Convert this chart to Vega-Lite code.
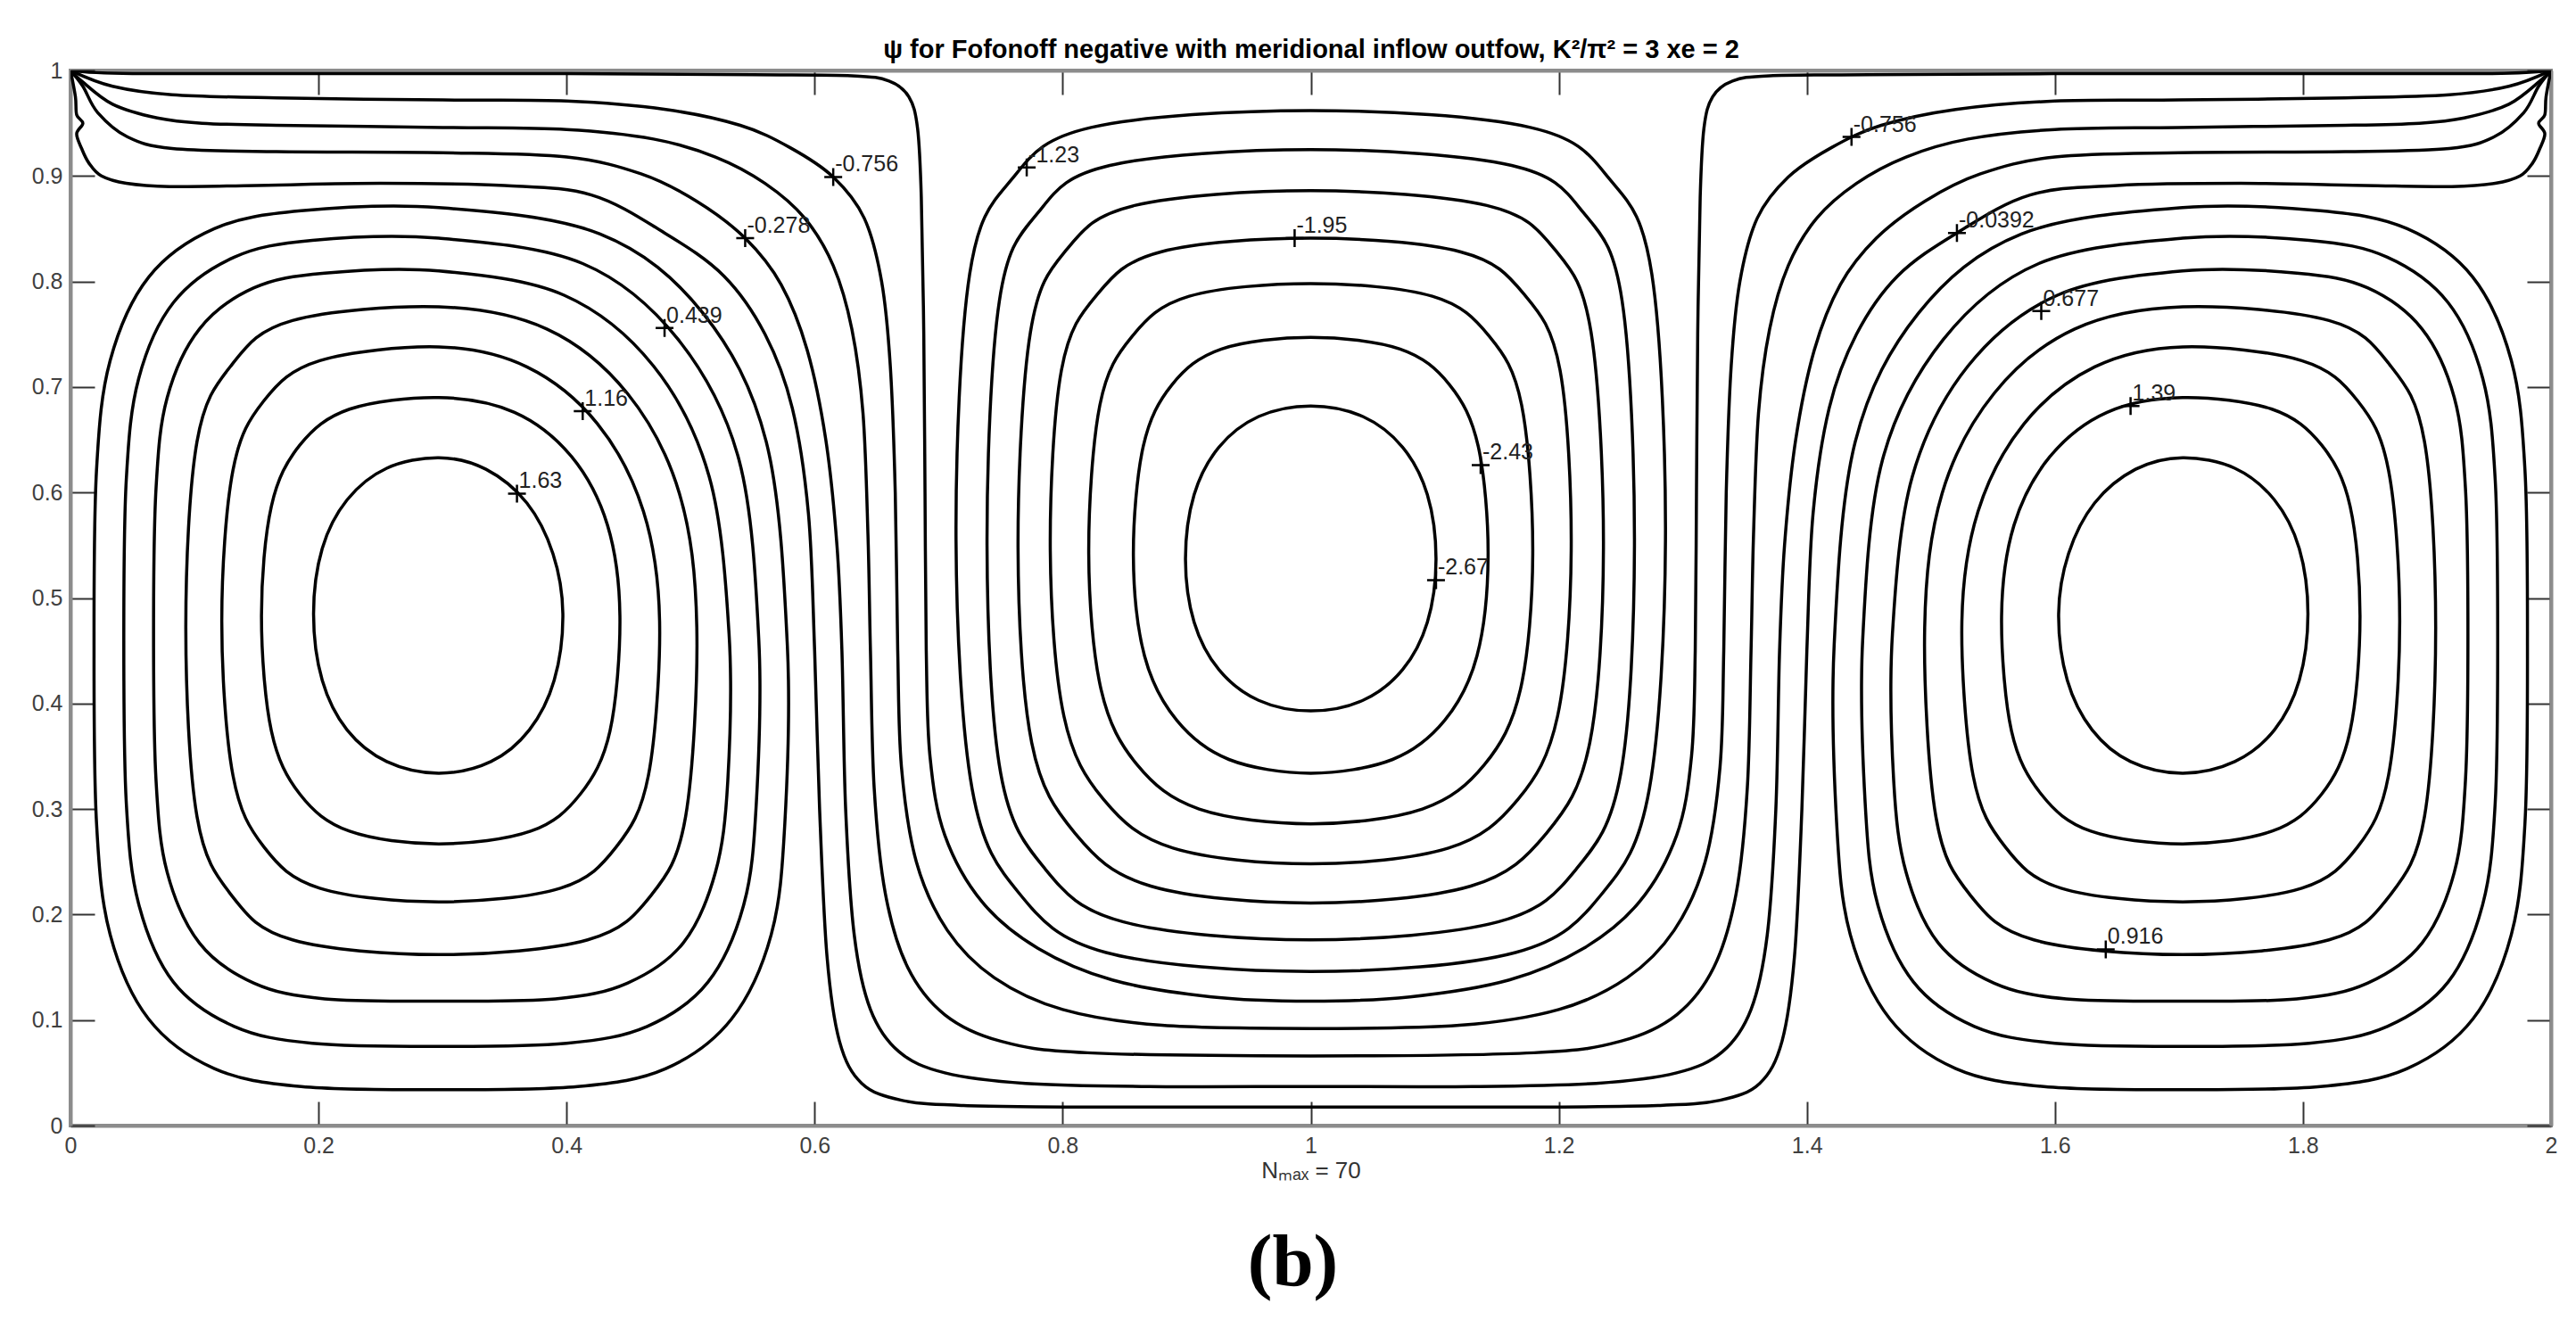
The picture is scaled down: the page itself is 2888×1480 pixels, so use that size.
{
"$schema": "https://vega.github.io/schema/vega-lite/v6.json",
"width": 2781, "height": 1183,
"autosize": {"type": "none"},
"padding": {"left": 79, "top": 79, "right": 28, "bottom": 218},
"background": "#ffffff",
"config": {
 "view": {"stroke": "#8c8c8c", "strokeWidth": 4},
 "font": "Liberation Sans",
 "axis": {"grid": false, "domainColor": "#8c8c8c", "domainWidth": 4, "tickColor": "#333333", "tickWidth": 2, "tickSize": -27, "labelFont": "Liberation Sans", "labelFontSize": 25, "labelColor": "#404040", "labelFlush": false, "labelOverlap": false, "titleFont": "Liberation Sans"}
},
"title": {"text": "(b)", "orient": "bottom", "anchor": "middle", "font": "Liberation Serif", "fontSize": 83, "fontWeight": "bold", "color": "#000000", "offset": 50, "dx": -20},
"datasets": {
"loops": [
{"c":"L1","i":0,"x":0.397,"y":0.485},{"c":"L1","i":1,"x":0.389,"y":0.542},{"c":"L1","i":2,"x":0.368,"y":0.590},{"c":"L1","i":3,"x":0.335,"y":0.622},{"c":"L1","i":4,"x":0.297,"y":0.633},{"c":"L1","i":5,"x":0.255,"y":0.623},{"c":"L1","i":6,"x":0.223,"y":0.593},{"c":"L1","i":7,"x":0.203,"y":0.547},{"c":"L1","i":8,"x":0.196,"y":0.485},{"c":"L1","i":9,"x":0.203,"y":0.422},{"c":"L1","i":10,"x":0.223,"y":0.375},{"c":"L1","i":11,"x":0.255,"y":0.345},{"c":"L1","i":12,"x":0.297,"y":0.334},{"c":"L1","i":13,"x":0.339,"y":0.345},{"c":"L1","i":14,"x":0.370,"y":0.375},{"c":"L1","i":15,"x":0.390,"y":0.422},
{"c":"L2","i":0,"x":0.443,"y":0.483},{"c":"L2","i":1,"x":0.433,"y":0.569},{"c":"L2","i":2,"x":0.404,"y":0.634},{"c":"L2","i":3,"x":0.358,"y":0.676},{"c":"L2","i":4,"x":0.297,"y":0.690},{"c":"L2","i":5,"x":0.225,"y":0.679},{"c":"L2","i":6,"x":0.185,"y":0.645},{"c":"L2","i":7,"x":0.162,"y":0.587},{"c":"L2","i":8,"x":0.154,"y":0.483},{"c":"L2","i":9,"x":0.162,"y":0.374},{"c":"L2","i":10,"x":0.185,"y":0.314},{"c":"L2","i":11,"x":0.225,"y":0.279},{"c":"L2","i":12,"x":0.297,"y":0.267},{"c":"L2","i":13,"x":0.371,"y":0.279},{"c":"L2","i":14,"x":0.411,"y":0.314},{"c":"L2","i":15,"x":0.435,"y":0.374},
{"c":"L3","i":0,"x":0.475,"y":0.478},{"c":"L3","i":1,"x":0.462,"y":0.582},{"c":"L3","i":2,"x":0.425,"y":0.665},{"c":"L3","i":3,"x":0.368,"y":0.719},{"c":"L3","i":4,"x":0.297,"y":0.738},{"c":"L3","i":5,"x":0.201,"y":0.725},{"c":"L3","i":6,"x":0.156,"y":0.687},{"c":"L3","i":7,"x":0.131,"y":0.621},{"c":"L3","i":8,"x":0.122,"y":0.478},{"c":"L3","i":9,"x":0.131,"y":0.332},{"c":"L3","i":10,"x":0.156,"y":0.264},{"c":"L3","i":11,"x":0.201,"y":0.225},{"c":"L3","i":12,"x":0.297,"y":0.212},{"c":"L3","i":13,"x":0.395,"y":0.225},{"c":"L3","i":14,"x":0.440,"y":0.264},{"c":"L3","i":15,"x":0.466,"y":0.332},
{"c":"L4","i":0,"x":0.505,"y":0.472},{"c":"L4","i":1,"x":0.491,"y":0.599},{"c":"L4","i":2,"x":0.449,"y":0.694},{"c":"L4","i":3,"x":0.384,"y":0.755},{"c":"L4","i":4,"x":0.297,"y":0.776},{"c":"L4","i":5,"x":0.179,"y":0.763},{"c":"L4","i":6,"x":0.130,"y":0.721},{"c":"L4","i":7,"x":0.102,"y":0.648},{"c":"L4","i":8,"x":0.093,"y":0.472},{"c":"L4","i":9,"x":0.102,"y":0.293},{"c":"L4","i":10,"x":0.130,"y":0.218},{"c":"L4","i":11,"x":0.179,"y":0.176},{"c":"L4","i":12,"x":0.297,"y":0.162},{"c":"L4","i":13,"x":0.417,"y":0.176},{"c":"L4","i":14,"x":0.468,"y":0.218},{"c":"L4","i":15,"x":0.496,"y":0.293},
{"c":"L5","i":0,"x":0.531,"y":0.466},{"c":"L5","i":1,"x":0.515,"y":0.615},{"c":"L5","i":2,"x":0.470,"y":0.720},{"c":"L5","i":3,"x":0.398,"y":0.787},{"c":"L5","i":4,"x":0.297,"y":0.810},{"c":"L5","i":5,"x":0.205,"y":0.808},{"c":"L5","i":6,"x":0.148,"y":0.794},{"c":"L5","i":7,"x":0.104,"y":0.755},{"c":"L5","i":8,"x":0.078,"y":0.690},{"c":"L5","i":9,"x":0.069,"y":0.604},{"c":"L5","i":10,"x":0.067,"y":0.466},{"c":"L5","i":11,"x":0.069,"y":0.327},{"c":"L5","i":12,"x":0.078,"y":0.240},{"c":"L5","i":13,"x":0.104,"y":0.173},{"c":"L5","i":14,"x":0.148,"y":0.135},{"c":"L5","i":15,"x":0.205,"y":0.120},{"c":"L5","i":16,"x":0.297,"y":0.118},{"c":"L5","i":17,"x":0.391,"y":0.120},{"c":"L5","i":18,"x":0.449,"y":0.135},{"c":"L5","i":19,"x":0.494,"y":0.173},{"c":"L5","i":20,"x":0.520,"y":0.240},{"c":"L5","i":21,"x":0.530,"y":0.327},
{"c":"L6","i":0,"x":0.555,"y":0.460},{"c":"L6","i":1,"x":0.539,"y":0.631},{"c":"L6","i":2,"x":0.490,"y":0.745},{"c":"L6","i":3,"x":0.413,"y":0.817},{"c":"L6","i":4,"x":0.297,"y":0.841},{"c":"L6","i":5,"x":0.195,"y":0.839},{"c":"L6","i":6,"x":0.132,"y":0.823},{"c":"L6","i":7,"x":0.083,"y":0.780},{"c":"L6","i":8,"x":0.055,"y":0.708},{"c":"L6","i":9,"x":0.045,"y":0.612},{"c":"L6","i":10,"x":0.043,"y":0.460},{"c":"L6","i":11,"x":0.045,"y":0.306},{"c":"L6","i":12,"x":0.055,"y":0.210},{"c":"L6","i":13,"x":0.083,"y":0.136},{"c":"L6","i":14,"x":0.132,"y":0.094},{"c":"L6","i":15,"x":0.195,"y":0.078},{"c":"L6","i":16,"x":0.297,"y":0.075},{"c":"L6","i":17,"x":0.400,"y":0.078},{"c":"L6","i":18,"x":0.465,"y":0.094},{"c":"L6","i":19,"x":0.514,"y":0.136},{"c":"L6","i":20,"x":0.543,"y":0.210},{"c":"L6","i":21,"x":0.553,"y":0.306},
{"c":"L7","i":0,"x":0.578,"y":0.455},{"c":"L7","i":1,"x":0.561,"y":0.648},{"c":"L7","i":2,"x":0.510,"y":0.770},{"c":"L7","i":3,"x":0.427,"y":0.845},{"c":"L7","i":4,"x":0.297,"y":0.870},{"c":"L7","i":5,"x":0.186,"y":0.867},{"c":"L7","i":6,"x":0.116,"y":0.850},{"c":"L7","i":7,"x":0.063,"y":0.804},{"c":"L7","i":8,"x":0.032,"y":0.725},{"c":"L7","i":9,"x":0.021,"y":0.621},{"c":"L7","i":10,"x":0.019,"y":0.455},{"c":"L7","i":11,"x":0.021,"y":0.287},{"c":"L7","i":12,"x":0.032,"y":0.181},{"c":"L7","i":13,"x":0.063,"y":0.101},{"c":"L7","i":14,"x":0.116,"y":0.054},{"c":"L7","i":15,"x":0.186,"y":0.037},{"c":"L7","i":16,"x":0.297,"y":0.034},{"c":"L7","i":17,"x":0.409,"y":0.037},{"c":"L7","i":18,"x":0.480,"y":0.054},{"c":"L7","i":19,"x":0.533,"y":0.101},{"c":"L7","i":20,"x":0.565,"y":0.181},{"c":"L7","i":21,"x":0.576,"y":0.287},
{"c":"M1","i":0,"x":1.101,"y":0.537},{"c":"M1","i":1,"x":1.094,"y":0.598},{"c":"M1","i":2,"x":1.074,"y":0.643},{"c":"M1","i":3,"x":1.042,"y":0.672},{"c":"M1","i":4,"x":1.000,"y":0.682},{"c":"M1","i":5,"x":0.958,"y":0.672},{"c":"M1","i":6,"x":0.926,"y":0.643},{"c":"M1","i":7,"x":0.906,"y":0.598},{"c":"M1","i":8,"x":0.899,"y":0.537},{"c":"M1","i":9,"x":0.906,"y":0.477},{"c":"M1","i":10,"x":0.926,"y":0.432},{"c":"M1","i":11,"x":0.958,"y":0.403},{"c":"M1","i":12,"x":1.000,"y":0.393},{"c":"M1","i":13,"x":1.042,"y":0.403},{"c":"M1","i":14,"x":1.074,"y":0.432},{"c":"M1","i":15,"x":1.094,"y":0.477},
{"c":"M2","i":0,"x":1.143,"y":0.540},{"c":"M2","i":1,"x":1.135,"y":0.644},{"c":"M2","i":2,"x":1.112,"y":0.702},{"c":"M2","i":3,"x":1.072,"y":0.736},{"c":"M2","i":4,"x":1.000,"y":0.747},{"c":"M2","i":5,"x":0.928,"y":0.736},{"c":"M2","i":6,"x":0.888,"y":0.702},{"c":"M2","i":7,"x":0.865,"y":0.644},{"c":"M2","i":8,"x":0.857,"y":0.540},{"c":"M2","i":9,"x":0.866,"y":0.445},{"c":"M2","i":10,"x":0.892,"y":0.384},{"c":"M2","i":11,"x":0.934,"y":0.347},{"c":"M2","i":12,"x":1.000,"y":0.334},{"c":"M2","i":13,"x":1.066,"y":0.347},{"c":"M2","i":14,"x":1.108,"y":0.384},{"c":"M2","i":15,"x":1.134,"y":0.445},
{"c":"M3","i":0,"x":1.179,"y":0.542},{"c":"M3","i":1,"x":1.170,"y":0.683},{"c":"M3","i":2,"x":1.144,"y":0.748},{"c":"M3","i":3,"x":1.098,"y":0.786},{"c":"M3","i":4,"x":1.000,"y":0.798},{"c":"M3","i":5,"x":0.902,"y":0.786},{"c":"M3","i":6,"x":0.856,"y":0.748},{"c":"M3","i":7,"x":0.830,"y":0.683},{"c":"M3","i":8,"x":0.821,"y":0.542},{"c":"M3","i":9,"x":0.831,"y":0.413},{"c":"M3","i":10,"x":0.860,"y":0.342},{"c":"M3","i":11,"x":0.910,"y":0.300},{"c":"M3","i":12,"x":1.000,"y":0.286},{"c":"M3","i":13,"x":1.090,"y":0.300},{"c":"M3","i":14,"x":1.140,"y":0.342},{"c":"M3","i":15,"x":1.169,"y":0.413},
{"c":"M4","i":0,"x":1.210,"y":0.545},{"c":"M4","i":1,"x":1.201,"y":0.716},{"c":"M4","i":2,"x":1.172,"y":0.788},{"c":"M4","i":3,"x":1.121,"y":0.828},{"c":"M4","i":4,"x":1.000,"y":0.841},{"c":"M4","i":5,"x":0.879,"y":0.828},{"c":"M4","i":6,"x":0.828,"y":0.788},{"c":"M4","i":7,"x":0.799,"y":0.716},{"c":"M4","i":8,"x":0.790,"y":0.545},{"c":"M4","i":9,"x":0.801,"y":0.388},{"c":"M4","i":10,"x":0.833,"y":0.309},{"c":"M4","i":11,"x":0.889,"y":0.263},{"c":"M4","i":12,"x":1.000,"y":0.248},{"c":"M4","i":13,"x":1.111,"y":0.263},{"c":"M4","i":14,"x":1.167,"y":0.309},{"c":"M4","i":15,"x":1.199,"y":0.388},
{"c":"M5","i":0,"x":1.236,"y":0.548},{"c":"M5","i":1,"x":1.226,"y":0.752},{"c":"M5","i":2,"x":1.197,"y":0.830},{"c":"M5","i":3,"x":1.142,"y":0.872},{"c":"M5","i":4,"x":1.000,"y":0.886},{"c":"M5","i":5,"x":0.858,"y":0.872},{"c":"M5","i":6,"x":0.803,"y":0.830},{"c":"M5","i":7,"x":0.774,"y":0.752},{"c":"M5","i":8,"x":0.764,"y":0.548},{"c":"M5","i":9,"x":0.775,"y":0.363},{"c":"M5","i":10,"x":0.810,"y":0.277},{"c":"M5","i":11,"x":0.871,"y":0.227},{"c":"M5","i":12,"x":1.000,"y":0.211},{"c":"M5","i":13,"x":1.129,"y":0.227},{"c":"M5","i":14,"x":1.190,"y":0.277},{"c":"M5","i":15,"x":1.225,"y":0.363},
{"c":"M6","i":0,"x":1.261,"y":0.550},{"c":"M6","i":1,"x":1.251,"y":0.782},{"c":"M6","i":2,"x":1.220,"y":0.865},{"c":"M6","i":3,"x":1.162,"y":0.910},{"c":"M6","i":4,"x":1.000,"y":0.925},{"c":"M6","i":5,"x":0.838,"y":0.910},{"c":"M6","i":6,"x":0.780,"y":0.865},{"c":"M6","i":7,"x":0.749,"y":0.782},{"c":"M6","i":8,"x":0.739,"y":0.550},{"c":"M6","i":9,"x":0.750,"y":0.334},{"c":"M6","i":10,"x":0.786,"y":0.243},{"c":"M6","i":11,"x":0.849,"y":0.193},{"c":"M6","i":12,"x":1.000,"y":0.176},{"c":"M6","i":13,"x":1.151,"y":0.193},{"c":"M6","i":14,"x":1.214,"y":0.243},{"c":"M6","i":15,"x":1.250,"y":0.334},
{"c":"M7","i":0,"x":1.286,"y":0.555},{"c":"M7","i":1,"x":1.275,"y":0.807},{"c":"M7","i":2,"x":1.241,"y":0.897},{"c":"M7","i":3,"x":1.177,"y":0.946},{"c":"M7","i":4,"x":1.000,"y":0.962},{"c":"M7","i":5,"x":0.823,"y":0.946},{"c":"M7","i":6,"x":0.759,"y":0.897},{"c":"M7","i":7,"x":0.725,"y":0.807},{"c":"M7","i":8,"x":0.714,"y":0.555},{"c":"M7","i":9,"x":0.727,"y":0.319},{"c":"M7","i":10,"x":0.765,"y":0.220},{"c":"M7","i":11,"x":0.835,"y":0.164},{"c":"M7","i":12,"x":1.000,"y":0.146},{"c":"M7","i":13,"x":1.165,"y":0.164},{"c":"M7","i":14,"x":1.235,"y":0.220},{"c":"M7","i":15,"x":1.273,"y":0.319},
{"c":"R1","i":0,"x":1.603,"y":0.485},{"c":"R1","i":1,"x":1.611,"y":0.542},{"c":"R1","i":2,"x":1.632,"y":0.590},{"c":"R1","i":3,"x":1.665,"y":0.622},{"c":"R1","i":4,"x":1.703,"y":0.633},{"c":"R1","i":5,"x":1.745,"y":0.623},{"c":"R1","i":6,"x":1.777,"y":0.593},{"c":"R1","i":7,"x":1.797,"y":0.547},{"c":"R1","i":8,"x":1.804,"y":0.485},{"c":"R1","i":9,"x":1.797,"y":0.422},{"c":"R1","i":10,"x":1.777,"y":0.375},{"c":"R1","i":11,"x":1.745,"y":0.345},{"c":"R1","i":12,"x":1.703,"y":0.334},{"c":"R1","i":13,"x":1.661,"y":0.345},{"c":"R1","i":14,"x":1.630,"y":0.375},{"c":"R1","i":15,"x":1.610,"y":0.422},
{"c":"R2","i":0,"x":1.557,"y":0.483},{"c":"R2","i":1,"x":1.567,"y":0.569},{"c":"R2","i":2,"x":1.596,"y":0.634},{"c":"R2","i":3,"x":1.642,"y":0.676},{"c":"R2","i":4,"x":1.703,"y":0.690},{"c":"R2","i":5,"x":1.775,"y":0.679},{"c":"R2","i":6,"x":1.815,"y":0.645},{"c":"R2","i":7,"x":1.838,"y":0.587},{"c":"R2","i":8,"x":1.846,"y":0.483},{"c":"R2","i":9,"x":1.838,"y":0.374},{"c":"R2","i":10,"x":1.815,"y":0.314},{"c":"R2","i":11,"x":1.775,"y":0.279},{"c":"R2","i":12,"x":1.703,"y":0.267},{"c":"R2","i":13,"x":1.629,"y":0.279},{"c":"R2","i":14,"x":1.589,"y":0.314},{"c":"R2","i":15,"x":1.565,"y":0.374},
{"c":"R3","i":0,"x":1.525,"y":0.478},{"c":"R3","i":1,"x":1.538,"y":0.582},{"c":"R3","i":2,"x":1.575,"y":0.665},{"c":"R3","i":3,"x":1.632,"y":0.719},{"c":"R3","i":4,"x":1.703,"y":0.738},{"c":"R3","i":5,"x":1.799,"y":0.725},{"c":"R3","i":6,"x":1.844,"y":0.687},{"c":"R3","i":7,"x":1.869,"y":0.621},{"c":"R3","i":8,"x":1.878,"y":0.478},{"c":"R3","i":9,"x":1.869,"y":0.332},{"c":"R3","i":10,"x":1.844,"y":0.264},{"c":"R3","i":11,"x":1.799,"y":0.225},{"c":"R3","i":12,"x":1.703,"y":0.212},{"c":"R3","i":13,"x":1.605,"y":0.225},{"c":"R3","i":14,"x":1.560,"y":0.264},{"c":"R3","i":15,"x":1.534,"y":0.332},
{"c":"R4","i":0,"x":1.495,"y":0.472},{"c":"R4","i":1,"x":1.509,"y":0.599},{"c":"R4","i":2,"x":1.551,"y":0.694},{"c":"R4","i":3,"x":1.616,"y":0.755},{"c":"R4","i":4,"x":1.703,"y":0.776},{"c":"R4","i":5,"x":1.821,"y":0.763},{"c":"R4","i":6,"x":1.870,"y":0.721},{"c":"R4","i":7,"x":1.898,"y":0.648},{"c":"R4","i":8,"x":1.907,"y":0.472},{"c":"R4","i":9,"x":1.898,"y":0.293},{"c":"R4","i":10,"x":1.870,"y":0.218},{"c":"R4","i":11,"x":1.821,"y":0.176},{"c":"R4","i":12,"x":1.703,"y":0.162},{"c":"R4","i":13,"x":1.583,"y":0.176},{"c":"R4","i":14,"x":1.532,"y":0.218},{"c":"R4","i":15,"x":1.504,"y":0.293},
{"c":"R5","i":0,"x":1.469,"y":0.466},{"c":"R5","i":1,"x":1.485,"y":0.615},{"c":"R5","i":2,"x":1.530,"y":0.720},{"c":"R5","i":3,"x":1.602,"y":0.787},{"c":"R5","i":4,"x":1.703,"y":0.810},{"c":"R5","i":5,"x":1.795,"y":0.808},{"c":"R5","i":6,"x":1.852,"y":0.794},{"c":"R5","i":7,"x":1.896,"y":0.755},{"c":"R5","i":8,"x":1.922,"y":0.690},{"c":"R5","i":9,"x":1.931,"y":0.604},{"c":"R5","i":10,"x":1.933,"y":0.466},{"c":"R5","i":11,"x":1.931,"y":0.327},{"c":"R5","i":12,"x":1.922,"y":0.240},{"c":"R5","i":13,"x":1.896,"y":0.173},{"c":"R5","i":14,"x":1.852,"y":0.135},{"c":"R5","i":15,"x":1.795,"y":0.120},{"c":"R5","i":16,"x":1.703,"y":0.118},{"c":"R5","i":17,"x":1.609,"y":0.120},{"c":"R5","i":18,"x":1.551,"y":0.135},{"c":"R5","i":19,"x":1.506,"y":0.173},{"c":"R5","i":20,"x":1.480,"y":0.240},{"c":"R5","i":21,"x":1.470,"y":0.327},
{"c":"R6","i":0,"x":1.445,"y":0.460},{"c":"R6","i":1,"x":1.461,"y":0.631},{"c":"R6","i":2,"x":1.510,"y":0.745},{"c":"R6","i":3,"x":1.587,"y":0.817},{"c":"R6","i":4,"x":1.703,"y":0.841},{"c":"R6","i":5,"x":1.805,"y":0.839},{"c":"R6","i":6,"x":1.868,"y":0.823},{"c":"R6","i":7,"x":1.917,"y":0.780},{"c":"R6","i":8,"x":1.945,"y":0.708},{"c":"R6","i":9,"x":1.955,"y":0.612},{"c":"R6","i":10,"x":1.957,"y":0.460},{"c":"R6","i":11,"x":1.955,"y":0.306},{"c":"R6","i":12,"x":1.945,"y":0.210},{"c":"R6","i":13,"x":1.917,"y":0.136},{"c":"R6","i":14,"x":1.868,"y":0.094},{"c":"R6","i":15,"x":1.805,"y":0.078},{"c":"R6","i":16,"x":1.703,"y":0.075},{"c":"R6","i":17,"x":1.600,"y":0.078},{"c":"R6","i":18,"x":1.535,"y":0.094},{"c":"R6","i":19,"x":1.486,"y":0.136},{"c":"R6","i":20,"x":1.457,"y":0.210},{"c":"R6","i":21,"x":1.447,"y":0.306},
{"c":"R7","i":0,"x":1.422,"y":0.455},{"c":"R7","i":1,"x":1.439,"y":0.648},{"c":"R7","i":2,"x":1.490,"y":0.770},{"c":"R7","i":3,"x":1.573,"y":0.845},{"c":"R7","i":4,"x":1.703,"y":0.870},{"c":"R7","i":5,"x":1.814,"y":0.867},{"c":"R7","i":6,"x":1.884,"y":0.850},{"c":"R7","i":7,"x":1.937,"y":0.804},{"c":"R7","i":8,"x":1.968,"y":0.725},{"c":"R7","i":9,"x":1.979,"y":0.621},{"c":"R7","i":10,"x":1.981,"y":0.455},{"c":"R7","i":11,"x":1.979,"y":0.287},{"c":"R7","i":12,"x":1.968,"y":0.181},{"c":"R7","i":13,"x":1.937,"y":0.101},{"c":"R7","i":14,"x":1.884,"y":0.054},{"c":"R7","i":15,"x":1.814,"y":0.037},{"c":"R7","i":16,"x":1.703,"y":0.034},{"c":"R7","i":17,"x":1.591,"y":0.037},{"c":"R7","i":18,"x":1.520,"y":0.054},{"c":"R7","i":19,"x":1.467,"y":0.101},{"c":"R7","i":20,"x":1.435,"y":0.181},{"c":"R7","i":21,"x":1.424,"y":0.287}
],
"opens": [
{"c":"A","i":0,"x":0.000,"y":1.000},{"c":"A","i":1,"x":0.050,"y":0.997},{"c":"A","i":2,"x":0.200,"y":0.997},{"c":"A","i":3,"x":0.400,"y":0.997},{"c":"A","i":4,"x":0.550,"y":0.996},{"c":"A","i":5,"x":0.630,"y":0.995},{"c":"A","i":6,"x":0.660,"y":0.990},{"c":"A","i":7,"x":0.676,"y":0.975},{"c":"A","i":8,"x":0.683,"y":0.945},{"c":"A","i":9,"x":0.686,"y":0.880},{"c":"A","i":10,"x":0.688,"y":0.750},{"c":"A","i":11,"x":0.689,"y":0.600},{"c":"A","i":12,"x":0.690,"y":0.450},{"c":"A","i":13,"x":0.693,"y":0.350},{"c":"A","i":14,"x":0.705,"y":0.275},{"c":"A","i":15,"x":0.735,"y":0.212},{"c":"A","i":16,"x":0.780,"y":0.168},{"c":"A","i":17,"x":0.840,"y":0.138},{"c":"A","i":18,"x":0.920,"y":0.122},{"c":"A","i":19,"x":1.000,"y":0.118},{"c":"A","i":20,"x":1.080,"y":0.122},{"c":"A","i":21,"x":1.160,"y":0.138},{"c":"A","i":22,"x":1.220,"y":0.168},{"c":"A","i":23,"x":1.265,"y":0.212},{"c":"A","i":24,"x":1.295,"y":0.275},{"c":"A","i":25,"x":1.307,"y":0.350},{"c":"A","i":26,"x":1.310,"y":0.450},{"c":"A","i":27,"x":1.311,"y":0.600},{"c":"A","i":28,"x":1.312,"y":0.750},{"c":"A","i":29,"x":1.314,"y":0.880},{"c":"A","i":30,"x":1.317,"y":0.945},{"c":"A","i":31,"x":1.324,"y":0.975},{"c":"A","i":32,"x":1.340,"y":0.990},{"c":"A","i":33,"x":1.370,"y":0.995},{"c":"A","i":34,"x":1.450,"y":0.996},{"c":"A","i":35,"x":1.600,"y":0.997},{"c":"A","i":36,"x":1.800,"y":0.997},{"c":"A","i":37,"x":1.950,"y":0.997},{"c":"A","i":38,"x":2.000,"y":1.000},
{"c":"B","i":0,"x":0.000,"y":1.000},{"c":"B","i":1,"x":0.034,"y":0.985},{"c":"B","i":2,"x":0.082,"y":0.977},{"c":"B","i":3,"x":0.166,"y":0.974},{"c":"B","i":4,"x":0.300,"y":0.972},{"c":"B","i":5,"x":0.400,"y":0.971},{"c":"B","i":6,"x":0.480,"y":0.963},{"c":"B","i":7,"x":0.540,"y":0.948},{"c":"B","i":8,"x":0.580,"y":0.927},{"c":"B","i":9,"x":0.615,"y":0.899},{"c":"B","i":10,"x":0.640,"y":0.860},{"c":"B","i":11,"x":0.654,"y":0.800},{"c":"B","i":12,"x":0.661,"y":0.720},{"c":"B","i":13,"x":0.665,"y":0.600},{"c":"B","i":14,"x":0.667,"y":0.450},{"c":"B","i":15,"x":0.670,"y":0.340},{"c":"B","i":16,"x":0.682,"y":0.250},{"c":"B","i":17,"x":0.707,"y":0.185},{"c":"B","i":18,"x":0.745,"y":0.140},{"c":"B","i":19,"x":0.800,"y":0.110},{"c":"B","i":20,"x":0.880,"y":0.095},{"c":"B","i":21,"x":1.000,"y":0.092},{"c":"B","i":22,"x":1.120,"y":0.095},{"c":"B","i":23,"x":1.200,"y":0.110},{"c":"B","i":24,"x":1.255,"y":0.140},{"c":"B","i":25,"x":1.293,"y":0.185},{"c":"B","i":26,"x":1.318,"y":0.250},{"c":"B","i":27,"x":1.330,"y":0.340},{"c":"B","i":28,"x":1.333,"y":0.450},{"c":"B","i":29,"x":1.335,"y":0.600},{"c":"B","i":30,"x":1.339,"y":0.720},{"c":"B","i":31,"x":1.346,"y":0.800},{"c":"B","i":32,"x":1.360,"y":0.860},{"c":"B","i":33,"x":1.385,"y":0.899},{"c":"B","i":34,"x":1.420,"y":0.927},{"c":"B","i":35,"x":1.460,"y":0.948},{"c":"B","i":36,"x":1.520,"y":0.963},{"c":"B","i":37,"x":1.600,"y":0.971},{"c":"B","i":38,"x":1.700,"y":0.972},{"c":"B","i":39,"x":1.834,"y":0.974},{"c":"B","i":40,"x":1.918,"y":0.977},{"c":"B","i":41,"x":1.966,"y":0.985},{"c":"B","i":42,"x":2.000,"y":1.000},
{"c":"C","i":0,"x":0.000,"y":1.000},{"c":"C","i":1,"x":0.008,"y":0.991},{"c":"C","i":2,"x":0.034,"y":0.968},{"c":"C","i":3,"x":0.070,"y":0.955},{"c":"C","i":4,"x":0.106,"y":0.950},{"c":"C","i":5,"x":0.166,"y":0.948},{"c":"C","i":6,"x":0.300,"y":0.946},{"c":"C","i":7,"x":0.400,"y":0.944},{"c":"C","i":8,"x":0.470,"y":0.935},{"c":"C","i":9,"x":0.520,"y":0.918},{"c":"C","i":10,"x":0.560,"y":0.893},{"c":"C","i":11,"x":0.592,"y":0.860},{"c":"C","i":12,"x":0.615,"y":0.815},{"c":"C","i":13,"x":0.630,"y":0.755},{"c":"C","i":14,"x":0.639,"y":0.675},{"c":"C","i":15,"x":0.643,"y":0.560},{"c":"C","i":16,"x":0.645,"y":0.450},{"c":"C","i":17,"x":0.648,"y":0.320},{"c":"C","i":18,"x":0.657,"y":0.220},{"c":"C","i":19,"x":0.675,"y":0.150},{"c":"C","i":20,"x":0.705,"y":0.105},{"c":"C","i":21,"x":0.750,"y":0.080},{"c":"C","i":22,"x":0.820,"y":0.069},{"c":"C","i":23,"x":1.000,"y":0.066},{"c":"C","i":24,"x":1.180,"y":0.069},{"c":"C","i":25,"x":1.250,"y":0.080},{"c":"C","i":26,"x":1.295,"y":0.105},{"c":"C","i":27,"x":1.325,"y":0.150},{"c":"C","i":28,"x":1.343,"y":0.220},{"c":"C","i":29,"x":1.352,"y":0.320},{"c":"C","i":30,"x":1.355,"y":0.450},{"c":"C","i":31,"x":1.357,"y":0.560},{"c":"C","i":32,"x":1.361,"y":0.675},{"c":"C","i":33,"x":1.370,"y":0.755},{"c":"C","i":34,"x":1.385,"y":0.815},{"c":"C","i":35,"x":1.408,"y":0.860},{"c":"C","i":36,"x":1.440,"y":0.893},{"c":"C","i":37,"x":1.480,"y":0.918},{"c":"C","i":38,"x":1.530,"y":0.935},{"c":"C","i":39,"x":1.600,"y":0.944},{"c":"C","i":40,"x":1.700,"y":0.946},{"c":"C","i":41,"x":1.834,"y":0.948},{"c":"C","i":42,"x":1.894,"y":0.950},{"c":"C","i":43,"x":1.930,"y":0.955},{"c":"C","i":44,"x":1.966,"y":0.968},{"c":"C","i":45,"x":1.992,"y":0.991},{"c":"C","i":46,"x":2.000,"y":1.000},
{"c":"D","i":0,"x":0.000,"y":1.000},{"c":"D","i":1,"x":0.010,"y":0.985},{"c":"D","i":2,"x":0.022,"y":0.960},{"c":"D","i":3,"x":0.046,"y":0.937},{"c":"D","i":4,"x":0.082,"y":0.926},{"c":"D","i":5,"x":0.166,"y":0.923},{"c":"D","i":6,"x":0.300,"y":0.922},{"c":"D","i":7,"x":0.400,"y":0.918},{"c":"D","i":8,"x":0.460,"y":0.902},{"c":"D","i":9,"x":0.505,"y":0.876},{"c":"D","i":10,"x":0.544,"y":0.841},{"c":"D","i":11,"x":0.573,"y":0.797},{"c":"D","i":12,"x":0.594,"y":0.735},{"c":"D","i":13,"x":0.609,"y":0.650},{"c":"D","i":14,"x":0.618,"y":0.550},{"c":"D","i":15,"x":0.622,"y":0.450},{"c":"D","i":16,"x":0.625,"y":0.300},{"c":"D","i":17,"x":0.632,"y":0.180},{"c":"D","i":18,"x":0.645,"y":0.110},{"c":"D","i":19,"x":0.668,"y":0.070},{"c":"D","i":20,"x":0.705,"y":0.050},{"c":"D","i":21,"x":0.770,"y":0.040},{"c":"D","i":22,"x":0.870,"y":0.037},{"c":"D","i":23,"x":1.000,"y":0.037},{"c":"D","i":24,"x":1.130,"y":0.037},{"c":"D","i":25,"x":1.230,"y":0.040},{"c":"D","i":26,"x":1.295,"y":0.050},{"c":"D","i":27,"x":1.332,"y":0.070},{"c":"D","i":28,"x":1.355,"y":0.110},{"c":"D","i":29,"x":1.368,"y":0.180},{"c":"D","i":30,"x":1.375,"y":0.300},{"c":"D","i":31,"x":1.378,"y":0.450},{"c":"D","i":32,"x":1.382,"y":0.550},{"c":"D","i":33,"x":1.391,"y":0.650},{"c":"D","i":34,"x":1.406,"y":0.735},{"c":"D","i":35,"x":1.427,"y":0.797},{"c":"D","i":36,"x":1.456,"y":0.841},{"c":"D","i":37,"x":1.495,"y":0.876},{"c":"D","i":38,"x":1.540,"y":0.902},{"c":"D","i":39,"x":1.600,"y":0.918},{"c":"D","i":40,"x":1.700,"y":0.922},{"c":"D","i":41,"x":1.834,"y":0.923},{"c":"D","i":42,"x":1.918,"y":0.926},{"c":"D","i":43,"x":1.954,"y":0.937},{"c":"D","i":44,"x":1.978,"y":0.960},{"c":"D","i":45,"x":1.990,"y":0.985},{"c":"D","i":46,"x":2.000,"y":1.000},
{"c":"E","i":0,"x":0.000,"y":1.000},{"c":"E","i":1,"x":0.004,"y":0.975},{"c":"E","i":2,"x":0.005,"y":0.958},{"c":"E","i":3,"x":0.010,"y":0.950},{"c":"E","i":4,"x":0.005,"y":0.940},{"c":"E","i":5,"x":0.009,"y":0.926},{"c":"E","i":6,"x":0.015,"y":0.912},{"c":"E","i":7,"x":0.025,"y":0.900},{"c":"E","i":8,"x":0.045,"y":0.893},{"c":"E","i":9,"x":0.080,"y":0.890},{"c":"E","i":10,"x":0.150,"y":0.891},{"c":"E","i":11,"x":0.250,"y":0.893},{"c":"E","i":12,"x":0.350,"y":0.891},{"c":"E","i":13,"x":0.420,"y":0.882},{"c":"E","i":14,"x":0.479,"y":0.846},{"c":"E","i":15,"x":0.527,"y":0.805},{"c":"E","i":16,"x":0.560,"y":0.750},{"c":"E","i":17,"x":0.582,"y":0.680},{"c":"E","i":18,"x":0.595,"y":0.580},{"c":"E","i":19,"x":0.600,"y":0.450},{"c":"E","i":20,"x":0.604,"y":0.300},{"c":"E","i":21,"x":0.610,"y":0.160},{"c":"E","i":22,"x":0.620,"y":0.080},{"c":"E","i":23,"x":0.638,"y":0.040},{"c":"E","i":24,"x":0.670,"y":0.024},{"c":"E","i":25,"x":0.720,"y":0.019},{"c":"E","i":26,"x":0.820,"y":0.0175},{"c":"E","i":27,"x":1.000,"y":0.0175},{"c":"E","i":28,"x":1.180,"y":0.0175},{"c":"E","i":29,"x":1.280,"y":0.019},{"c":"E","i":30,"x":1.330,"y":0.024},{"c":"E","i":31,"x":1.362,"y":0.040},{"c":"E","i":32,"x":1.380,"y":0.080},{"c":"E","i":33,"x":1.390,"y":0.160},{"c":"E","i":34,"x":1.396,"y":0.300},{"c":"E","i":35,"x":1.400,"y":0.450},{"c":"E","i":36,"x":1.405,"y":0.580},{"c":"E","i":37,"x":1.418,"y":0.680},{"c":"E","i":38,"x":1.440,"y":0.750},{"c":"E","i":39,"x":1.473,"y":0.805},{"c":"E","i":40,"x":1.521,"y":0.846},{"c":"E","i":41,"x":1.580,"y":0.882},{"c":"E","i":42,"x":1.650,"y":0.891},{"c":"E","i":43,"x":1.750,"y":0.893},{"c":"E","i":44,"x":1.850,"y":0.891},{"c":"E","i":45,"x":1.920,"y":0.890},{"c":"E","i":46,"x":1.955,"y":0.893},{"c":"E","i":47,"x":1.975,"y":0.900},{"c":"E","i":48,"x":1.985,"y":0.912},{"c":"E","i":49,"x":1.991,"y":0.926},{"c":"E","i":50,"x":1.995,"y":0.940},{"c":"E","i":51,"x":1.990,"y":0.950},{"c":"E","i":52,"x":1.995,"y":0.958},{"c":"E","i":53,"x":1.996,"y":0.975},{"c":"E","i":54,"x":2.000,"y":1.000}
],
"labels": [
{"x":0.360,"y":0.599,"t":"1.63"},
{"x":0.413,"y":0.677,"t":"1.16"},
{"x":0.479,"y":0.756,"t":"0.439"},
{"x":0.544,"y":0.841,"t":"-0.278"},
{"x":0.615,"y":0.899,"t":"-0.756"},
{"x":0.771,"y":0.908,"t":"-1.23"},
{"x":0.987,"y":0.841,"t":"-1.95"},
{"x":1.137,"y":0.626,"t":"-2.43"},
{"x":1.101,"y":0.517,"t":"-2.67"},
{"x":1.436,"y":0.937,"t":"-0.756"},
{"x":1.521,"y":0.846,"t":"-0.0392"},
{"x":1.589,"y":0.772,"t":"0.677"},
{"x":1.661,"y":0.682,"t":"1.39"},
{"x":1.641,"y":0.167,"t":"0.916"}
]
},
"layer": [
{
 "data": {"name": "loops"},
 "mark": {"type": "line", "interpolate": "cardinal-closed", "stroke": "#000000", "strokeWidth": 3.5, "clip": true},
 "encoding": {
  "x": {"field": "x", "type": "quantitative", "scale": {"domain": [0, 2], "nice": false, "zero": false},
        "axis": {"orient": "bottom", "values": [0,0.2,0.4,0.6,0.8,1,1.2,1.4,1.6,1.8,2], "format": "~g", "labelPadding": 37, "title": "Nₘₐₓ = 70", "titleFontSize": 26, "titleFontWeight": "normal", "titleColor": "#333333", "titlePadding": 2}},
  "y": {"field": "y", "type": "quantitative", "scale": {"domain": [0, 1], "nice": false, "zero": false},
        "axis": {"orient": "left", "values": [0,0.1,0.2,0.3,0.4,0.5,0.6,0.7,0.8,0.9,1], "format": "~g", "labelPadding": 36, "title": null}},
  "detail": {"field": "c"},
  "order": {"field": "i", "type": "quantitative"}
 }
},
{
 "data": {"name": "opens"},
 "mark": {"type": "line", "interpolate": "cardinal", "stroke": "#000000", "strokeWidth": 3.5, "clip": true},
 "encoding": {
  "x": {"field": "x", "type": "quantitative", "scale": {"domain": [0, 2], "nice": false, "zero": false},
        "axis": {"orient": "top", "values": [0,0.2,0.4,0.6,0.8,1,1.2,1.4,1.6,1.8,2], "labels": false, "title": "ψ for Fofonoff negative with meridional inflow outfow, K²/π² = 3 xe = 2", "titleFontSize": 29, "titleFontWeight": "bold", "titleColor": "#000000", "titlePadding": 8}},
  "y": {"field": "y", "type": "quantitative", "scale": {"domain": [0, 1], "nice": false, "zero": false},
        "axis": {"orient": "right", "values": [0,0.1,0.2,0.3,0.4,0.5,0.6,0.7,0.8,0.9,1], "labels": false, "title": null}},
  "detail": {"field": "c"},
  "order": {"field": "i", "type": "quantitative"}
 }
},
{
 "data": {"name": "labels"},
 "mark": {"type": "point", "shape": "M-1,0L1,0M0,-1L0,1", "size": 400, "filled": false, "color": "#000000", "strokeWidth": 2.5, "opacity": 1},
 "encoding": {
  "x": {"field": "x", "type": "quantitative", "axis": null},
  "y": {"field": "y", "type": "quantitative", "axis": null}
 }
},
{
 "data": {"name": "labels"},
 "mark": {"type": "text", "align": "left", "baseline": "alphabetic", "dx": 2, "dy": -6, "fontSize": 25, "font": "Liberation Sans", "color": "#222222"},
 "encoding": {
  "x": {"field": "x", "type": "quantitative", "axis": null},
  "y": {"field": "y", "type": "quantitative", "axis": null},
  "text": {"field": "t"}
 }
}
],
"resolve": {"axis": {"x": "independent", "y": "independent"}}
}
